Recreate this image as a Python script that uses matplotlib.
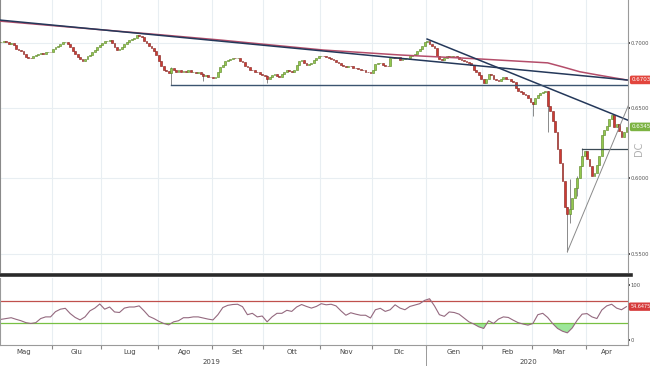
import numpy as np
import pandas as pd
import matplotlib
matplotlib.use("Agg")
import matplotlib.pyplot as plt
import matplotlib.transforms as mtransforms
from matplotlib.lines import Line2D

# AUD/USD daily closes, one per business day starting 1 May 2019
closes = [
    # May 2019
    0.7010, 0.7005, 0.7010, 0.7015, 0.7005, 0.6995, 0.7000, 0.6985, 0.6950, 0.6945,
    0.6940, 0.6915, 0.6890, 0.6885, 0.6880, 0.6895, 0.6905, 0.6915, 0.6920, 0.6915,
    0.6925, 0.6930, 0.6925,
    # Jun
    0.6950, 0.6965, 0.6980, 0.6990, 0.7005, 0.7010, 0.6995, 0.6965, 0.6935, 0.6910,
    0.6890, 0.6875, 0.6860, 0.6875, 0.6895, 0.6905, 0.6925, 0.6945, 0.6965, 0.6985,
    # Jul
    0.7000, 0.7015, 0.7020, 0.7025, 0.7000, 0.6965, 0.6945, 0.6955, 0.6970, 0.6995,
    0.7010, 0.7025, 0.7030, 0.7040, 0.7065, 0.7055, 0.7045, 0.7020, 0.7000, 0.6980,
    0.6960, 0.6935, 0.6905,
    # Aug
    0.6860, 0.6820, 0.6790, 0.6780, 0.6765, 0.6800, 0.6785, 0.6770, 0.6785, 0.6770,
    0.6780, 0.6775, 0.6785, 0.6770, 0.6775, 0.6765, 0.6770, 0.6755, 0.6740, 0.6745,
    0.6735, 0.6730,
    # Sep
    0.6725, 0.6730, 0.6770, 0.6810, 0.6830, 0.6855, 0.6865, 0.6875, 0.6885, 0.6880,
    0.6885, 0.6860, 0.6850, 0.6820, 0.6810, 0.6790, 0.6785, 0.6775, 0.6770, 0.6760,
    0.6750,
    # Oct
    0.6740, 0.6715, 0.6730, 0.6745, 0.6755, 0.6740, 0.6730, 0.6755, 0.6775, 0.6790,
    0.6780, 0.6770, 0.6790, 0.6830, 0.6860, 0.6865, 0.6845, 0.6830, 0.6835, 0.6845,
    0.6865, 0.6885, 0.6900,
    # Nov
    0.6900, 0.6895, 0.6890, 0.6885, 0.6870, 0.6865, 0.6850, 0.6845, 0.6830, 0.6815,
    0.6810, 0.6820, 0.6815, 0.6805, 0.6800, 0.6795, 0.6790, 0.6785, 0.6775, 0.6770,
    0.6765,
    # Dec
    0.6790, 0.6835, 0.6840, 0.6845, 0.6830, 0.6820, 0.6815, 0.6880, 0.6890, 0.6885,
    0.6890, 0.6865, 0.6870, 0.6880, 0.6885, 0.6900, 0.6905, 0.6915, 0.6935, 0.6955,
    0.6975, 0.7010,
    # Jan 2020
    0.7020, 0.6990, 0.6975, 0.6960, 0.6895, 0.6875, 0.6865, 0.6880, 0.6895, 0.6890,
    0.6900, 0.6895, 0.6890, 0.6875, 0.6865, 0.6860, 0.6850, 0.6840, 0.6825, 0.6790,
    0.6770, 0.6750, 0.6715,
    # Feb
    0.6690, 0.6720, 0.6755, 0.6750, 0.6720, 0.6710, 0.6700, 0.6715, 0.6730, 0.6720,
    0.6715, 0.6705, 0.6695, 0.6650, 0.6625, 0.6620, 0.6600, 0.6595, 0.6570, 0.6540,
    # Mar
    0.6525, 0.6570, 0.6595, 0.6615, 0.6620, 0.6625, 0.6510, 0.6480, 0.6400, 0.6320,
    0.6200, 0.6100, 0.5980, 0.5800, 0.5760, 0.5790, 0.5860, 0.5930, 0.6000, 0.6080,
    0.6150, 0.6190,
    # Apr
    0.6130, 0.6080, 0.6010, 0.6030, 0.6090, 0.6150, 0.6300, 0.6340, 0.6370, 0.6420,
    0.6445, 0.6360, 0.6380, 0.6330, 0.6290, 0.6320, 0.6360,
]
first_open = 0.7015

# visible shadows: day index -> (low, high)
wicks = {
    71: (0.6672, 0.6810),
    84: (0.6700, 0.6765),
    110: (0.6690, 0.6745),
    218: (0.6440, 0.6545),
    224: (0.6320, 0.6630),
    232: (0.5510, 0.5800),
    233: (0.5700, 0.5990),
    236: (0.5880, 0.6010),
    238: (0.6080, 0.6205),
}

# 200 day average (pink line)
ma_days = [0, 68, 91, 133, 164, 196, 224, 230, 237, 244, 251, 256]
ma_vals = [0.7180, 0.7064, 0.7024, 0.6944, 0.6905, 0.6874, 0.6843, 0.6812, 0.6774, 0.6750, 0.6727, 0.6711]

# drawn trendlines (day index, price)
long_line = ([0, 257], [0.7189, 0.6709])
dec_line = ([175, 257], [0.7032, 0.6406])
low_line = ([232, 257], [0.5514, 0.6527])
hline1 = ([71, 257], [0.6672, 0.6672])
hline2 = ([238, 257], [0.6200, 0.6200])

# RSI, every second business day from day 2
rsi = [
    37.6, 39, 40.5, 37.6, 35, 31.5, 30, 31.5, 39, 42, 42, 51.5, 56, 57.6, 48, 41,
    36.5, 42, 53, 58, 65.5, 56, 60, 51, 50, 58, 60, 60, 62, 53, 43, 39,
    34, 30, 27.5, 33, 35, 40.5, 40.5, 42, 42, 40, 38, 36.5, 46, 59, 63, 64.5,
    65, 60.6, 46, 48.5, 42, 43.6, 33, 42, 48.5, 48.5, 54, 52, 60, 64.5, 61, 58,
    61, 66, 64, 65, 62, 53, 45, 49.5, 47, 45, 45, 40, 55, 57.6, 52, 55,
    64, 58, 55, 61, 63.6, 66, 72, 75, 62, 46, 43, 51, 50, 47, 40, 33,
    29, 24, 21, 35, 30, 38, 42, 41, 36, 31.5, 29, 27, 30, 46, 48.5, 41,
    30, 21, 16, 13, 22, 36, 47, 48, 42, 39, 54.5, 62, 65, 58, 55, 60.6,
]

price_ticks = [0.55, 0.60, 0.65, 0.70]
price_labels = ["0.5500", "0.6000", "0.6500", "0.7000"]
month_names = ["Mag", "Giu", "Lug", "Ago", "Set", "Ott", "Nov", "Dic", "Gen", "Feb", "Mar", "Apr"]
last_price_label = "0.6345"
ma_label = "0.6703"
rsi_label = "54.6475"

dates = pd.bdate_range("2019-05-01", periods=len(closes))
days = np.arange(len(closes))
c = np.array(closes)
o = np.array([first_open] + closes[:-1])
rsi_days = np.arange(2, 2 + 2 * len(rsi), 2)
rsi_arr = np.array(rsi)

green = "#93c94e"
green_edge = "#55801f"
red = "#cf3a32"
red_edge = "#7d1c17"
navy = "#24385a"
grid_c = "#e8eef2"

fig = plt.figure(figsize=(6.5, 3.66), dpi=100)
ax = fig.add_axes([0, 0.257, 0.966, 0.743])
ax2 = fig.add_axes([0, 0.0574, 0.966, 0.183])

xmin, xmax = 1.46, 256.6

# month boundaries
starts = [0] + [i for i in range(1, len(dates)) if dates[i].month != dates[i - 1].month]
ends = starts[1:] + [len(dates)]

for a in (ax, ax2):
    for s in starts[1:]:
        a.axvline(s - 0.5, color=grid_c, lw=0.8, zorder=0)

# ---- price panel
ax.set_yscale("log")
ax.set_xlim(xmin, xmax)
ax.set_ylim(0.5388, 0.7353)
for p in price_ticks:
    ax.axhline(p, color=grid_c, lw=0.8, zorder=0)

up = c >= o
ax.bar(days, np.abs(c - o), bottom=np.minimum(o, c), width=0.75,
       color=np.where(up, green, red), edgecolor=np.where(up, green_edge, red_edge),
       linewidth=0.4, zorder=3)
for d, (lo, hi) in wicks.items():
    ax.vlines(d, lo, hi, color="#777777", lw=0.6, zorder=2)

ax.plot(ma_days, ma_vals, color="#b44d6a", lw=1.1, zorder=4)
ax.plot(*long_line, color=navy, lw=1.1, zorder=4)
ax.plot(*dec_line, color=navy, lw=1.1, zorder=4)
ax.plot(*hline1, color="#3b5470", lw=1.0, zorder=4)
ax.plot(*hline2, color="#3b4a55", lw=0.9, zorder=4)
ax.plot(*low_line, color="#8a8a8a", lw=0.7, zorder=4)

ax.yaxis.tick_right()
ax.set_yticks(price_ticks)
ax.set_yticklabels(price_labels)
ax.yaxis.set_minor_locator(matplotlib.ticker.NullLocator())
ax.tick_params(axis="y", length=1.5, width=1.2, color="#333333", pad=0.6, labelsize=3.8, labelcolor="#555555")
ax.set_xticks([])
for side in ["top", "bottom"]:
    ax.spines[side].set_visible(False)
ax.spines["left"].set_color("#8a8a8a")
ax.spines["right"].set_color("#9a9a9a")
ax.spines["right"].set_linewidth(0.8)

yt = mtransforms.blended_transform_factory(ax.transAxes, ax.transData)
ax.text(1.006, ma_vals[-1], ma_label, transform=yt, fontsize=4, color="white", va="center", ha="left",
        bbox=dict(boxstyle="round,pad=0.2", fc="#e2453d", ec="#e2453d"), clip_on=False)
ax.text(1.006, closes[-1], last_price_label, transform=yt, fontsize=4, color="white", va="center", ha="left",
        bbox=dict(boxstyle="round,pad=0.2", fc="#7cb342", ec="#7cb342"), clip_on=False)
ax.text(1.018, 0.452, "DC", transform=ax.transAxes, fontsize=7, color="#b0b0b0", rotation=90,
        va="center", ha="center", clip_on=False)

# ---- RSI panel
ax2.set_xlim(xmin, xmax)
ax2.set_ylim(-9.1, 112.7)
ax2.axhline(70, color="#c0504d", lw=0.9)
ax2.axhline(30, color="#78c043", lw=0.9)
ax2.fill_between(rsi_days, rsi_arr, 30, where=rsi_arr < 30, interpolate=True, color="#9de69a", lw=0)
ax2.fill_between(rsi_days, rsi_arr, 70, where=rsi_arr > 70, interpolate=True, color="#f1a5a5", lw=0)
ax2.plot(rsi_days, rsi_arr, color="#94697f", lw=0.8)

ax2.yaxis.tick_right()
ax2.set_yticks([0, 100])
ax2.set_yticklabels(["0", "100"])
ax2.tick_params(axis="y", length=1.5, width=1.2, color="#333333", pad=0.6, labelsize=3.8, labelcolor="#555555")
yt2 = mtransforms.blended_transform_factory(ax2.transAxes, ax2.transData)
ax2.text(1.004, rsi[-1], rsi_label, transform=yt2, fontsize=3.5, color="white", va="center", ha="left",
         bbox=dict(boxstyle="round,pad=0.2", fc="#d63b3b", ec="#d63b3b"), clip_on=False)

ax2.set_xticks([s - 0.5 for s in starts[1:]])
ax2.set_xticklabels([])
ax2.tick_params(axis="x", length=3, color="#888888")
ax2.spines["top"].set_visible(False)
for side in ["left", "right", "bottom"]:
    ax2.spines[side].set_color("#9a9a9a")
    ax2.spines[side].set_linewidth(0.8)

xt = mtransforms.blended_transform_factory(ax2.transData, ax2.transAxes)
for name, s, e in zip(month_names, starts, ends):
    ax2.text((s + e - 1) / 2, -0.11, name, transform=xt, fontsize=5, color="#444444",
             ha="center", va="center", clip_on=False)
year_start = starts[8]
ax2.text((0 + year_start) / 2, -0.25, "2019", transform=xt, fontsize=5, color="#444444",
         ha="center", va="center", clip_on=False)
ax2.text((year_start + len(dates)) / 2, -0.25, "2020", transform=xt, fontsize=5, color="#444444",
         ha="center", va="center", clip_on=False)
ax2.plot([year_start - 0.5] * 2, [0, -0.32], transform=xt, color="#999999", lw=0.7, clip_on=False)

# thick separator between the panels
fig.add_artist(Line2D([0, 0.97], [0.25, 0.25], color="#2a2a2a", lw=2.6))

fig.savefig("out.png", dpi=100, facecolor="white")
